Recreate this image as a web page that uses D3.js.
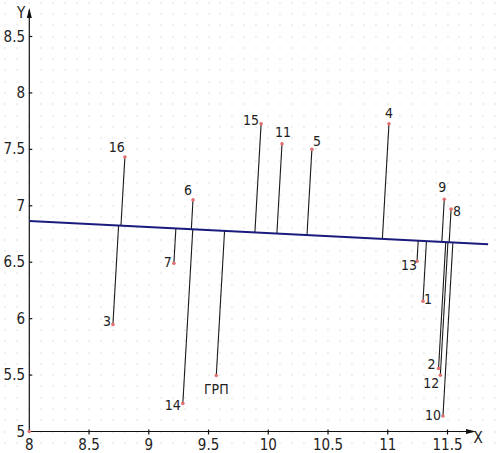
<!DOCTYPE html>
<html lang="ru">
<head>
	<meta charset="UTF-8">
	<title>Points and line</title>
	<script type="text/javascript" src="https://d3js.org/d3.v7.min.js"></script>
	<style>
		body { margin: 0; background: #fff; }
		svg { display: block; }
		text { font-family: "Liberation Sans Narrow", "DejaVu Sans Condensed", sans-serif; fill: #222; }
	</style>
</head>
<body>
	<svg id="chart" width="498" height="453"></svg>

	<script>
		// point names and coordinates
		var names = ["16", "3", "6", "7", "14", "ГРП", "15", "11", "5", "4", "9", "8", "13", "1", "2", "12", "10"];
		var xs = [8.80, 8.70, 9.37, 9.21, 9.285, 9.565, 9.94, 10.115, 10.365, 11.01, 11.473, 11.53, 11.245, 11.295, 11.425, 11.44, 11.462];
		var ys = [7.432, 5.949, 7.052, 6.49, 5.249, 5.496, 7.726, 7.549, 7.50, 7.726, 7.058, 6.97, 6.508, 6.154, 5.558, 5.499, 5.137];

		// fitted line, two ends
		var lineX = [8, 11.84];
		var lineY = [6.866, 6.659];

		var xTicks = [8, 8.5, 9, 9.5, 10, 10.5, 11, 11.5];
		var yTicks = [5, 5.5, 6, 6.5, 7, 7.5, 8, 8.5];

		// where each label sits around its point (px)
		var labelShift = {
			"16": [-8, -10], "3": [-6, -3], "6": [-5, -10], "7": [-6, -1], "14": [-10, 2],
			"ГРП": [0, 13], "15": [-10, -4], "11": [1, -12], "5": [5, -8], "4": [0, -11],
			"9": [-2, -12], "8": [6, 2], "13": [-8, 4], "1": [5, -2], "2": [-7, -5],
			"12": [-9, 8], "10": [-10, -1]
		};

		var svg = d3.select("#chart");
		var x = d3.scaleLinear().domain([8, 11.5]).range([29.3, 447.5]);
		var y = d3.scaleLinear().domain([5, 8.5]).range([431.5, 36.5]);

		// dotted background grid, every 0.1
		var gx = d3.range(-3, 42).map(function(i) { return 8 + i / 10; });
		var gy = d3.range(-2, 40).map(function(i) { return 5 + i / 10; });
		var dots = [];
		gx.forEach(function(a) { gy.forEach(function(b) { dots.push([a, b]); }); });
		svg.append("g").selectAll("rect").data(dots).enter().append("rect")
			.attr("x", function(d) { return Math.round(x(d[0])) - 0.5; })
			.attr("y", function(d) { return Math.round(y(d[1])) - 0.5; })
			.attr("width", 1).attr("height", 1)
			.attr("fill", "#c4c4c4");

		// axes
		var ax = svg.append("g").attr("stroke", "#111").attr("stroke-width", 1.2);
		ax.append("line").attr("x1", x(8)).attr("x2", 474).attr("y1", y(5)).attr("y2", y(5));
		ax.append("line").attr("x1", x(8)).attr("x2", x(8)).attr("y1", y(5)).attr("y2", 10);
		svg.append("path").attr("fill", "#111")
			.attr("d", "M476," + y(5) + "l-10,-2.5v5z");
		svg.append("path").attr("fill", "#111")
			.attr("d", "M" + x(8) + ",8l-2.5,10h5z");

		ax.selectAll(".xt").data(xTicks.slice(1)).enter().append("line")
			.attr("x1", function(d) { return x(d); }).attr("x2", function(d) { return x(d); })
			.attr("y1", y(5) - 2).attr("y2", y(5) + 3);
		ax.selectAll(".yt").data(yTicks.slice(1)).enter().append("line")
			.attr("x1", x(8)).attr("x2", x(8) + 3)
			.attr("y1", function(d) { return y(d); }).attr("y2", function(d) { return y(d); });

		svg.selectAll(".xl").data(xTicks).enter().append("text")
			.attr("x", function(d) { return x(d); }).attr("y", 450)
			.attr("text-anchor", "middle").attr("font-size", 15)
			.text(function(d) { return d; });
		svg.selectAll(".yl").data(yTicks).enter().append("text")
			.attr("x", 25).attr("y", function(d) { return y(d) + 5; })
			.attr("text-anchor", "end").attr("font-size", 15)
			.text(function(d) { return d; });
		svg.append("text").attr("x", 478).attr("y", 443).attr("text-anchor", "middle")
			.attr("font-size", 15).text("X");
		svg.append("text").attr("x", 21).attr("y", 18).attr("text-anchor", "middle")
			.attr("font-size", 15).text("Y");

		// fitted line and orthogonal feet of each point
		var slope = (lineY[1] - lineY[0]) / (lineX[1] - lineX[0]);
		function foot(px, py) {
			var r = py - (lineY[0] + slope * (px - lineX[0]));
			var k = r / (1 + slope * slope);
			return [px + slope * k, py - k];
		}
		var pts = names.map(function(n, i) {
			return { name: n, x: xs[i], y: ys[i], f: foot(xs[i], ys[i]) };
		});

		svg.append("g").selectAll("line").data(pts).enter().append("line")
			.attr("x1", function(d) { return x(d.x); }).attr("y1", function(d) { return y(d.y); })
			.attr("x2", function(d) { return x(d.f[0]); }).attr("y2", function(d) { return y(d.f[1]); })
			.attr("stroke", "#1a1a1a").attr("stroke-width", 1.1);

		svg.append("line")
			.attr("x1", x(lineX[0])).attr("y1", y(lineY[0]))
			.attr("x2", x(lineX[1])).attr("y2", y(lineY[1]))
			.attr("stroke", "#1b1b7e").attr("stroke-width", 2);

		// point markers (plus one at the origin)
		var marks = pts.concat([{ x: 8, y: 5 }]);
		svg.append("g").selectAll("circle").data(marks).enter().append("circle")
			.attr("cx", function(d) { return x(d.x); }).attr("cy", function(d) { return y(d.y); })
			.attr("r", 1.8).attr("fill", "#e07070");

		svg.append("g").selectAll("text").data(pts).enter().append("text")
			.attr("x", function(d) { return x(d.x) + labelShift[d.name][0]; })
			.attr("y", function(d) { return y(d.y) + labelShift[d.name][1] + 5; })
			.attr("text-anchor", "middle").attr("font-size", 14)
			.text(function(d) { return d.name; });
	</script>
</body>
</html>
